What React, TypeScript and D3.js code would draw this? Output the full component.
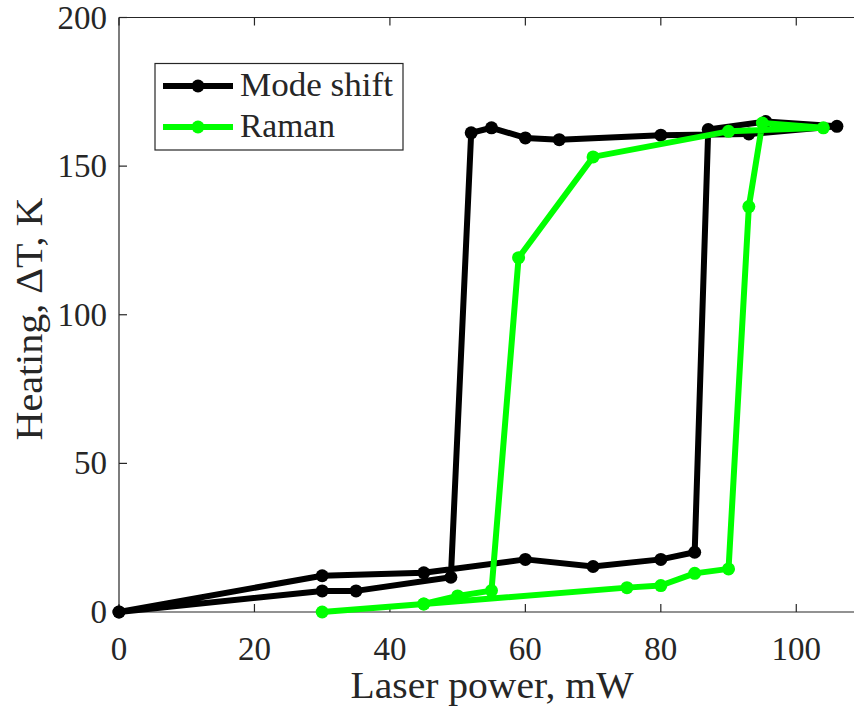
import React from "react";
import * as d3 from "d3";

// Data
const modePower = [0, 30, 45, 60, 70, 80, 85, 87, 95.5, 106, 93, 80, 65, 60, 55, 52, 49, 35, 30, 0];
const modeHeat = [0, 12.2, 13.2, 17.7, 15.3, 17.7, 20.1, 162.3, 165, 163.4, 160.8, 160.4, 158.9, 159.5, 162.9, 161.2, 11.7, 7.1, 7.1, 0];

const ramanPower = [30, 45, 75, 80, 85, 90, 93, 95, 104, 90, 70, 59, 55, 50, 45];
const ramanHeat = [0, 2.7, 8.2, 8.9, 13, 14.5, 136.4, 164.5, 162.9, 161.7, 153.1, 119.2, 7.2, 5.4, 2.7];

const xTicks = [0, 20, 40, 60, 80, 100];
const yTicks = [0, 50, 100, 150, 200];

const seriesNames = ["Mode shift", "Raman"];
const seriesColors = ["#000000", "#00ff00"];

const W = 854;
const H = 709;
const left = 119;
const right = 864;
const top = 17.5;
const bottom = 612;

const FONT = "'Liberation Serif', 'Times New Roman', serif";
const AXIS = "#262626";

export default function App() {
  const x = d3.scaleLinear().domain([0, 110]).range([left, right]);
  const y = d3.scaleLinear().domain([0, 200]).range([bottom, top]);

  const line = d3
    .line<[number, number]>()
    .x((d) => x(d[0]))
    .y((d) => y(d[1]));

  const series = [
    modePower.map((p, i) => [p, modeHeat[i]] as [number, number]),
    ramanPower.map((p, i) => [p, ramanHeat[i]] as [number, number]),
  ];

  const tickLen = 8;

  return (
    <svg
      width={W}
      height={H}
      style={{ position: "absolute", left: 0, top: 0, background: "#fff" }}
    >
      <rect x={0} y={0} width={W} height={H} fill="#fff" />
      {/* axes box */}
      <g stroke={AXIS} strokeWidth={1.2} fill="none">
        <line x1={left} y1={top} x2={right} y2={top} />
        <line x1={left} y1={bottom} x2={right} y2={bottom} />
        <line x1={left} y1={top} x2={left} y2={bottom} />
        <line x1={right} y1={top} x2={right} y2={bottom} />
        {xTicks.map((t) => (
          <g key={"xt" + t}>
            <line x1={x(t)} x2={x(t)} y1={bottom} y2={bottom - tickLen} />
            <line x1={x(t)} x2={x(t)} y1={top} y2={top + tickLen} />
          </g>
        ))}
        {yTicks.map((t) => (
          <g key={"yt" + t}>
            <line x1={left} x2={left + tickLen} y1={y(t)} y2={y(t)} />
            <line x1={right} x2={right - tickLen} y1={y(t)} y2={y(t)} />
          </g>
        ))}
      </g>

      {/* tick labels */}
      <g fill={AXIS} fontFamily={FONT} fontSize={33}>
        {xTicks.map((t) => (
          <text key={"xl" + t} x={x(t)} y={660} textAnchor="middle">
            {t}
          </text>
        ))}
        {yTicks.map((t) => (
          <text key={"yl" + t} x={107} y={y(t) + 11} textAnchor="end">
            {t}
          </text>
        ))}
      </g>

      {/* axis labels */}
      <text
        x={492}
        y={698}
        textAnchor="middle"
        fontFamily={FONT}
        fontSize={37}
        fill={AXIS}
        textLength={283}
        lengthAdjust="spacingAndGlyphs"
      >
        Laser power, mW
      </text>
      <text
        transform={`translate(42,319) rotate(-90)`}
        x={0}
        y={0}
        textAnchor="middle"
        fontFamily={FONT}
        fontSize={37}
        fill={AXIS}
        textLength={243}
        lengthAdjust="spacingAndGlyphs"
      >
        Heating, ΔT, K
      </text>

      {/* data */}
      {series.map((s, i) => (
        <g key={"s" + i}>
          <path
            d={line(s) || ""}
            fill="none"
            stroke={seriesColors[i]}
            strokeWidth={6}
            strokeLinejoin="round"
            strokeLinecap="round"
          />
          {s.map((d, j) => (
            <circle key={j} cx={x(d[0])} cy={y(d[1])} r={6.5} fill={seriesColors[i]} />
          ))}
        </g>
      ))}

      {/* legend */}
      <g>
        <rect x={155} y={63.5} width={248} height={86.5} fill="#fff" stroke={AXIS} strokeWidth={1.2} />
        {seriesNames.map((n, i) => {
          const ly = 86 + i * 41;
          return (
            <g key={"lg" + i}>
              <line x1={163} x2={233} y1={ly} y2={ly} stroke={seriesColors[i]} strokeWidth={6} />
              <circle cx={198} cy={ly} r={6.5} fill={seriesColors[i]} />
              <text
                x={240}
                y={ly + 10}
                fontFamily={FONT}
                fontSize={34}
                fill={AXIS}
                textLength={i === 0 ? 153 : 95}
                lengthAdjust="spacingAndGlyphs"
              >
                {n}
              </text>
            </g>
          );
        })}
      </g>
    </svg>
  );
}
